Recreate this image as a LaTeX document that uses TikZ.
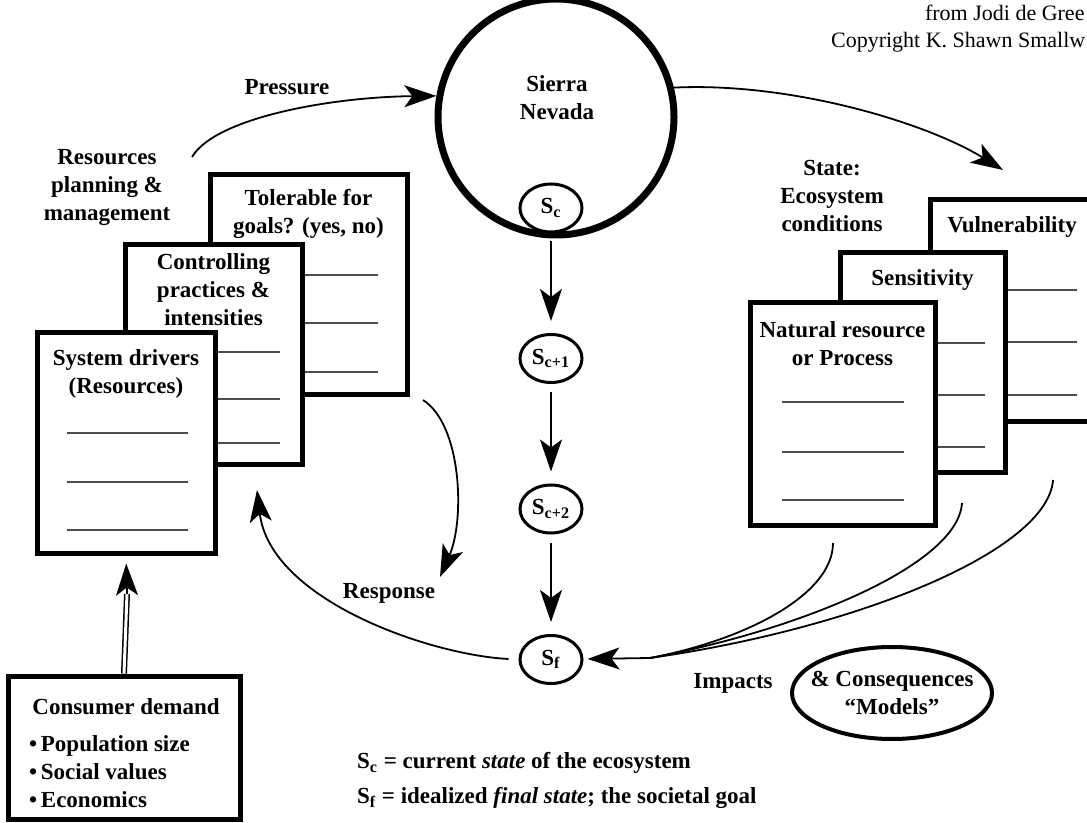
\documentclass[tikz,border=0pt]{standalone}
\usepackage{fontspec}
\setmainfont{Liberation Serif}
\usetikzlibrary{arrows.meta, positioning, shapes.geometric}

\begin{document}
\begin{tikzpicture}[x=0.5pt,y=0.5pt,>={Stealth[length=16pt,width=11pt,inset=4pt]},node distance=75.25pt]
        \tikzstyle{every node}=[font=\bfseries\fontsize{11.5}{14}\selectfont,align=center]
        \tikzstyle{sheet}=[draw,fill=white,line width=2.5pt,minimum height=110pt]
        \tikzstyle{rule}=[draw=black!70,line width=1pt]
        \tikzstyle{stage}=[ellipse,draw,fill=white,line width=1.5pt,minimum width=31pt,minimum height=24pt,inner sep=0pt]
        \tikzstyle{flow}=[->,line width=0.9pt]
        \tikzstyle{title}=[below=6pt]

        \useasboundingbox (0,0) rectangle (1087,-823);

        % source note
        \node[anchor=west,font=\mdseries\fontsize{11}{13}\selectfont] (src)  at (918,-13) {from Jodi de Gree};
        \node[anchor=west,font=\mdseries\fontsize{11}{13}\selectfont] (copy) at (824,-42) {Copyright K. Shawn Smallw};

        % the system and its states
        \node[circle,draw,line width=3.5pt,minimum size=118pt] (snv) at (556,-117) {};
        \node (snvtext) at (557,-98) {Sierra\\Nevada};
        \node[stage] (sc)                  at (551,-208) {S\textsubscript{c}};
        \node[stage] (sc1) [below of=sc]  {S\textsubscript{c+1}};
        \node[stage] (sc2) [below of=sc1] {S\textsubscript{c+2}};
        \node[stage] (sf)  [below of=sc2] {S\textsubscript{f}};

        \path[flow,shorten <=4pt,shorten >=6pt] (sc) edge (sc1)
                                                (sc1) edge (sc2)
                                                (sc2) edge (sf);

        % left stack: planning
        \node[sheet,minimum width=98.5pt] (tol) at (308.5,-285) {};
        \draw[rule] (240,-275) -- (378,-275) (240,-323) -- (378,-323) (240,-372) -- (378,-372);
        \node[below=5pt] at (tol.north) {Tolerable for\\goals? (yes, no)};

        \node[sheet,minimum width=88.5pt] (ctl) at (213.5,-355) {};
        \draw[rule] (160,-352) -- (280,-352) (160,-399) -- (280,-399) (160,-443) -- (280,-443);
        \node[below=2pt] at (ctl.north) {Controlling\\practices \&\\intensities};

        \node[sheet,minimum width=89pt] (drv) at (126,-443) {};
        \draw[rule] (67,-433) -- (188,-433) (67,-482) -- (188,-482) (67,-530) -- (188,-530);
        \node[title] at (drv.north) {System drivers\\(Resources)};

        \node (plan) at (107,-188) {Resources\\planning \&\\management};

        % right stack: state
        \node[sheet,minimum width=90pt,minimum height=111pt] (vul) at (1020,-311) {};
        \draw[rule] (960,-290) -- (1077,-290) (960,-342) -- (1077,-342) (960,-395) -- (1077,-395);
        \node[title,xshift=-4pt] at (vul.north) {Vulnerability};

        \node[sheet,minimum width=82.5pt] (sen) at (922.5,-363) {};
        \draw[rule] (880,-343) -- (985,-343) (880,-395) -- (985,-395) (880,-447) -- (985,-447);
        \node[title] at (sen.north) {Sensitivity};

        \node[sheet,minimum width=92.5pt,minimum height=111pt] (nat) at (842.5,-414) {};
        \draw[rule] (782,-402) -- (904,-402) (782,-452) -- (904,-452) (782,-500) -- (904,-500);
        \node[below=7pt] at (nat.north) {Natural resource\\or Process};

        \node (state) at (832,-196) {State:\\Ecosystem\\conditions};

        % consumer demand
        \node[sheet,minimum width=116pt,minimum height=71.5pt] (cons) at (124,-747.5) {};
        \node (constext) at (126,-707) {Consumer demand};
        \node[anchor=west,align=left] (conslist) at (22,-772) {\textbullet\,Population size\\\textbullet\,Social values\\\textbullet\,Economics};

        \coordinate (dbase) at (127,-594);
        \draw[double,line width=0.75pt,double distance=1.5pt] (cons.north) -- (dbase);
        \draw[flow,shorten >=4pt] (dbase) -- (drv.south);

        % pressure and state
        \coordinate (pbeg) at (192,-157);
        \coordinate (send) at (1003,-170);
        \node (press) at (287,-87) {Pressure};
        \draw[flow] (pbeg) .. controls (215,-118) and (330,-97) .. (snv.170);
        \draw[flow] (snv.14) .. controls (790,-82) and (925,-122) .. (send);

        % response
        \coordinate (rbeg) at (423,-400);
        \coordinate (rend) at (440,-577);
        \coordinate (rtip) at (257,-490);
        \node (resp) at (389,-593) {Response};
        \draw[flow] (rbeg) .. controls (462,-425) and (465,-520) .. (rend);
        \draw[flow,shorten <=5pt] (sf.west) .. controls (430,-655) and (270,-600) .. (rtip);

        % impacts
        \coordinate (i1) at (833,-543);
        \coordinate (i2) at (962,-503);
        \coordinate (i3) at (1053,-480);
        \coordinate (imp) at (650,-658);
        \draw[line width=0.9pt] (i1) .. controls (833,-595) and (745,-640) .. (imp);
        \draw[line width=0.9pt] (i2) .. controls (958,-565) and (800,-630) .. (imp);
        \draw[line width=0.9pt] (i3) .. controls (1048,-550) and (860,-628) .. (imp);
        \draw[flow,shorten >=2pt] (imp) -- (sf);
        \node (impl) at (733,-683) {Impacts};
        \node[ellipse,draw,line width=2pt,minimum width=100pt,minimum height=46pt,inner xsep=-5.5pt,inner ysep=0pt] (cnsq) at (892,-693) {\& Consequences\\``Models''};

        % legend
        \node[anchor=west] (lgc) at (350,-763) {S\textsubscript{c} = current \textit{state} of the ecosystem};
        \node[anchor=west] (lgf) at (350,-798) {S\textsubscript{f} = idealized \textit{final state}; the societal goal};
\end{tikzpicture}
\end{document}
